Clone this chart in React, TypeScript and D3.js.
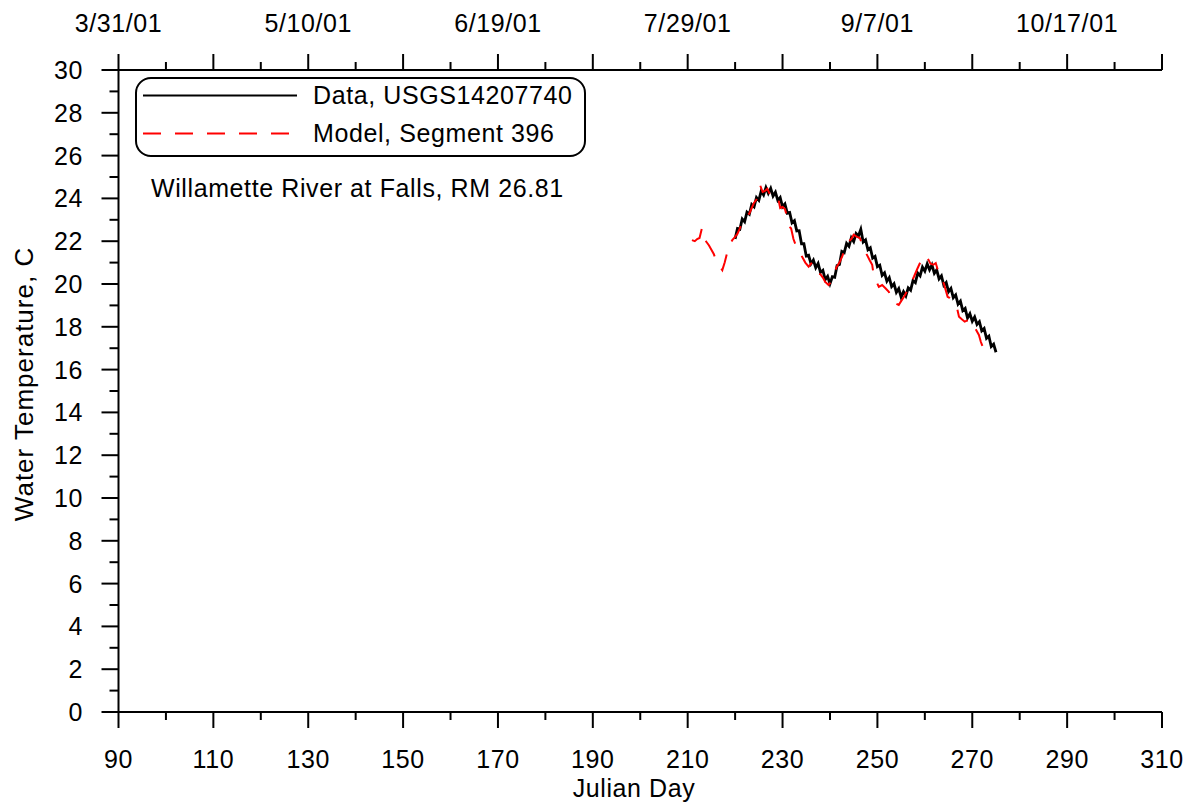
import React from "react";
import * as d3 from "d3";

// ---- Data ----
const dataLabel = "Data, USGS14207740";
const modelLabel = "Model, Segment 396";
const stationNote = "Willamette River at Falls, RM 26.81";

const xTickValues = [90, 110, 130, 150, 170, 190, 210, 230, 250, 270, 290, 310];
const xMinorValues = [100, 120, 140, 160, 180, 200, 220, 240, 260, 280, 300];
const yTickValues = [0, 2, 4, 6, 8, 10, 12, 14, 16, 18, 20, 22, 24, 26, 28, 30];
const yMinorValues = [1, 3, 5, 7, 9, 11, 13, 15, 17, 19, 21, 23, 25, 27, 29];
const dateTickDays = [90, 130, 170, 210, 250, 290];
const dateTickLabels = ["3/31/01", "5/10/01", "6/19/01", "7/29/01", "9/7/01", "10/17/01"];

// Observed data (Julian day, water temperature C)
const dataSeries: [number, number][] = [
  [220.0, 22.11], [220.5, 22.59], [221.0, 22.56], [221.5, 23.04], [222.0, 22.91], [222.5, 23.36],
  [223.0, 23.26], [223.5, 23.72], [224.0, 23.61], [224.5, 24.04], [225.0, 23.91], [225.5, 24.34],
  [226.0, 24.16], [226.5, 24.51], [227.0, 24.24], [227.5, 24.47], [228.0, 24.11], [228.5, 24.29],
  [229.0, 23.91], [229.5, 24.04], [230.0, 23.61], [230.5, 23.74], [231.0, 23.31], [231.5, 23.34],
  [232.0, 22.86], [232.5, 22.96], [233.0, 22.48], [233.5, 22.49], [234.0, 21.88], [234.5, 21.88],
  [235.0, 21.31], [235.5, 21.34], [236.0, 20.94], [236.5, 21.12], [237.0, 20.76], [237.5, 20.96],
  [238.0, 20.54], [238.5, 20.64], [239.0, 20.21], [239.5, 20.36], [240.0, 20.01], [240.5, 20.34],
  [241.0, 20.31], [241.5, 20.86], [242.0, 20.91], [242.5, 21.52], [243.0, 21.46], [243.5, 21.9],
  [244.0, 21.76], [244.5, 22.16], [245.0, 21.98], [245.5, 22.36], [246.0, 22.24], [246.5, 22.55],
  [247.0, 21.96], [247.5, 22.06], [248.0, 21.6], [248.5, 21.69], [249.0, 21.21], [249.5, 21.29],
  [250.0, 20.81], [250.5, 20.88], [251.0, 20.4], [251.5, 20.52], [252.0, 20.13], [252.5, 20.3],
  [253.0, 19.88], [253.5, 20.01], [254.0, 19.61], [254.5, 19.78], [255.0, 19.39], [255.5, 19.64],
  [256.0, 19.44], [256.5, 19.82], [257.0, 19.71], [257.5, 20.16], [258.0, 20.06], [258.5, 20.51],
  [259.0, 20.38], [259.5, 20.79], [260.0, 20.6], [260.5, 20.94], [261.0, 20.66], [261.5, 20.89],
  [262.0, 20.5], [262.5, 20.66], [263.0, 20.24], [263.5, 20.38], [264.0, 19.94], [264.5, 20.07],
  [265.0, 19.64], [265.5, 19.79], [266.0, 19.36], [266.5, 19.49], [267.0, 19.06], [267.5, 19.2],
  [268.0, 18.76], [268.5, 18.86], [269.0, 18.41], [269.5, 18.61], [270.0, 18.26], [270.5, 18.46],
  [271.0, 18.11], [271.5, 18.24], [272.0, 17.81], [272.5, 17.92], [273.0, 17.46], [273.5, 17.56],
  [274.0, 17.08], [274.5, 17.19], [275.0, 16.81],
];

// Model output (Julian day, water temperature C)
const modelSeries: [number, number][] = [
  [210.9, 22.05], [211.5, 22.0], [212.0, 22.1], [212.5, 22.15], [213.0, 22.6], [213.5, 22.1],
  [214.0, 21.95], [214.5, 21.8], [215.0, 21.6], [215.5, 21.4], [216.0, 21.1], [216.5, 20.9],
  [217.0, 20.75], [217.3, 20.65], [217.8, 21.0], [218.2, 21.36], [218.8, 21.8], [219.4, 22.05],
  [220.0, 22.2], [220.5, 22.35], [221.0, 22.6], [221.5, 22.9], [222.0, 23.0], [222.5, 23.15],
  [223.0, 23.3], [223.5, 23.55], [224.0, 23.8], [224.5, 23.95], [225.0, 24.25], [225.3, 24.6],
  [225.8, 24.3], [226.3, 24.35], [226.8, 24.45], [227.3, 24.2], [228.0, 24.25], [228.5, 24.2],
  [229.0, 24.1], [229.5, 23.55], [230.0, 23.6], [230.5, 23.5], [231.0, 23.1], [231.3, 22.7],
  [231.8, 22.6], [232.3, 22.1], [232.9, 21.74], [233.5, 21.6], [234.1, 21.28], [234.8, 21.0],
  [235.5, 20.81], [236.2, 21.0], [236.8, 20.7], [237.4, 20.5], [238.0, 20.45], [238.5, 20.3],
  [239.0, 20.1], [239.7, 19.95], [240.2, 20.1], [240.8, 20.42], [241.4, 20.8], [242.0, 21.0],
  [242.6, 21.3], [243.3, 21.74], [244.0, 22.0], [244.5, 22.1], [245.0, 22.3], [245.7, 22.2],
  [246.3, 22.15], [246.7, 21.9], [247.1, 21.6], [247.8, 21.36], [248.4, 21.1], [248.9, 20.9],
  [249.2, 20.42], [249.8, 20.1], [250.3, 19.87], [251.0, 19.95], [251.7, 19.8], [252.4, 19.64],
  [253.1, 19.17], [253.8, 19.1], [254.5, 19.02], [255.0, 19.2], [255.6, 19.4], [256.1, 19.6],
  [256.6, 19.87], [257.2, 20.1], [257.7, 20.34], [258.4, 20.7], [259.1, 21.04], [260.0, 20.9],
  [260.6, 21.2], [261.2, 20.95], [261.8, 20.9], [262.3, 20.98], [262.8, 20.6], [263.3, 20.28],
  [264.0, 20.03], [264.8, 19.4], [265.2, 19.35], [265.6, 19.25], [266.2, 19.05], [266.8, 18.86],
  [267.2, 18.47], [267.8, 18.35], [268.4, 18.24], [269.0, 18.3], [269.5, 18.35], [270.0, 18.24],
  [270.7, 17.9], [271.4, 17.62], [271.8, 17.3], [272.2, 17.07], [272.8, 16.8], [273.5, 16.53],
];

const W = 1193;
const H = 804;
const FONT = "Arial, 'Liberation Sans', Helvetica, sans-serif";
const FS = 25;
const LS = 0.6;

export default function App() {
  const x = d3.scaleLinear().domain([90, 310]).range([118.5, 1162]);
  const y = d3.scaleLinear().domain([0, 30]).range([712, 70]);

  const line = d3
    .line<[number, number]>()
    .x((d) => x(d[0]))
    .y((d) => y(d[1]));

  const [x0, x1] = x.range();
  const [yBottom, yTop] = y.range();

  const textStyle: React.CSSProperties = { fontFamily: FONT, fontSize: FS, letterSpacing: LS };

  return (
    <svg
      width={W}
      height={H}
      viewBox={`0 0 ${W} ${H}`}
      style={{ position: "absolute", left: 0, top: 0, display: "block", background: "#fff" }}
    >
      <rect x={0} y={0} width={W} height={H} fill="#fff" />

      {/* Data lines */}
      <path d={line(dataSeries) || ""} fill="none" stroke="#000" strokeWidth={2.8} strokeLinejoin="miter" />
      <path
        d={line(modelSeries) || ""}
        fill="none"
        stroke="#ff0000"
        strokeWidth={2}
        strokeDasharray="18 14"
      />

      {/* Axes lines */}
      <g stroke="#000" strokeWidth={2} fill="none">
        <line x1={x0} x2={x1} y1={yBottom} y2={yBottom} />
        <line x1={x0} x2={x1} y1={yTop} y2={yTop} />
        <line x1={x0} x2={x0} y1={yBottom} y2={yTop} />

        {/* bottom ticks */}
        {xTickValues.map((v) => (
          <line key={"bt" + v} x1={x(v)} x2={x(v)} y1={yBottom} y2={yBottom + 16} />
        ))}
        {xMinorValues.map((v) => (
          <line key={"bm" + v} x1={x(v)} x2={x(v)} y1={yBottom} y2={yBottom + 8} />
        ))}
        {/* top ticks */}
        {xTickValues.map((v) => (
          <line key={"tt" + v} x1={x(v)} x2={x(v)} y1={yTop} y2={yTop - 16} />
        ))}
        {xMinorValues.map((v) => (
          <line key={"tm" + v} x1={x(v)} x2={x(v)} y1={yTop} y2={yTop - 8} />
        ))}
        {/* left ticks */}
        {yTickValues.map((v) => (
          <line key={"lt" + v} x1={x0 - 17} x2={x0} y1={y(v)} y2={y(v)} />
        ))}
        {yMinorValues.map((v) => (
          <line key={"lm" + v} x1={x0 - 9} x2={x0} y1={y(v)} y2={y(v)} />
        ))}
      </g>

      {/* Tick labels */}
      <g style={textStyle} fill="#000">
        {xTickValues.map((v) => (
          <text key={"bl" + v} x={x(v)} y={768} textAnchor="middle">
            {v}
          </text>
        ))}
        {dateTickDays.map((v, i) => (
          <text key={"dl" + v} x={x(v)} y={32} textAnchor="middle">
            {dateTickLabels[i]}
          </text>
        ))}
        {yTickValues.map((v) => (
          <text key={"yl" + v} x={83} y={y(v) + 9} textAnchor="end">
            {v}
          </text>
        ))}
        <text x={634} y={797} textAnchor="middle">
          Julian Day
        </text>
        <text
          transform={`translate(33, 384) rotate(-90)`}
          textAnchor="middle"
          style={{ fontSize: 26, letterSpacing: 1 }}
        >
          Water Temperature, C
        </text>
        <text x={151} y={197}>
          {stationNote}
        </text>
      </g>

      {/* Legend */}
      <rect x={136} y={78} width={449} height={78} rx={15} ry={15} fill="#fff" stroke="#000" strokeWidth={2} />
      <line x1={143} x2={297} y1={95.5} y2={95.5} stroke="#000" strokeWidth={2} />
      <line x1={143} x2={297} y1={133.5} y2={133.5} stroke="#ff0000" strokeWidth={2} strokeDasharray="18 14" />
      <g style={textStyle} fill="#000">
        <text x={313} y={103.5}>{dataLabel}</text>
        <text x={313} y={141.5}>{modelLabel}</text>
      </g>
    </svg>
  );
}
